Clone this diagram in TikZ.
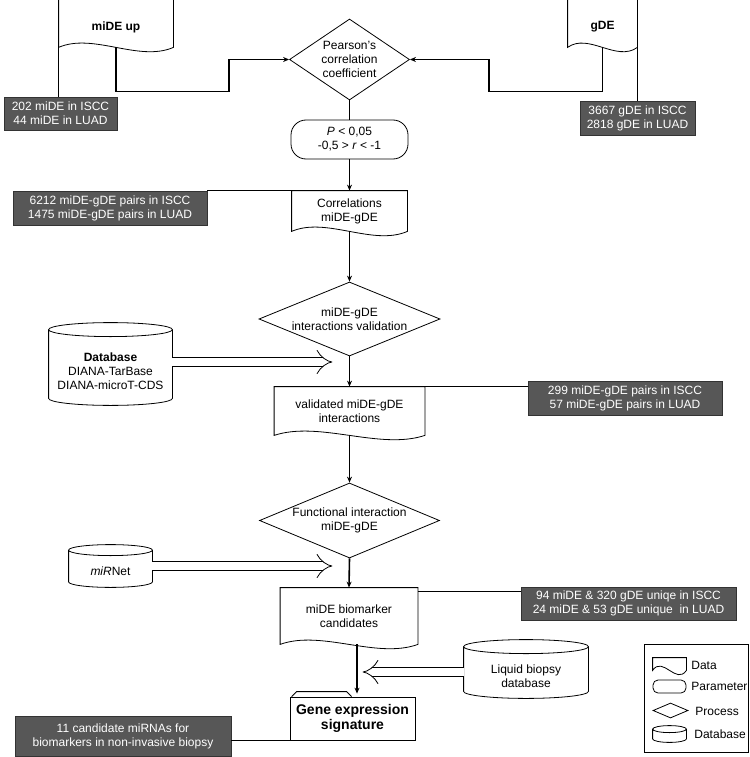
\documentclass[tikz,border=0pt]{standalone}
\usepackage{fontspec}
\setmainfont{Liberation Sans}
\usetikzlibrary{shapes.geometric, arrows.meta, positioning, calc}
\definecolor{boxgray}{HTML}{575757}
\tikzstyle{arrow}    = [line width=1.6pt,->,>={Stealth[length=6pt,width=5pt]}]
\tikzstyle{edge}     = [line width=1.6pt]
\tikzstyle{note}     = [line width=0.8pt]
\tikzstyle{feed}     = [line width=0.8pt, double, double distance=8pt, -{Implies}]
\tikzstyle{datadoc}  = [inner sep=0pt, align=center]
\tikzstyle{dbase}    = [inner sep=0pt, align=center]
\tikzstyle{process}  = [draw, diamond, inner sep=0pt, align=center]
\tikzstyle{param}    = [draw, rounded corners=15pt, inner sep=0pt, align=center]
\tikzstyle{graybox}  = [draw=black!80, fill=boxgray, text=white, inner sep=0pt, align=center]
\tikzstyle{legtext}  = [anchor=west, inner sep=0pt]
\newcommand{\docshape}[2][0]{%
  \draw ([yshift=#1pt]#2.north west) -- ([yshift=#1pt]#2.north east) -- (#2.south east)
    .. controls ($(#2.south east)!0.3!(#2.south west)+(0,15)$) and ($(#2.south east)!0.7!(#2.south west)+(0,-15)$) .. (#2.south west) -- cycle;}
\newcommand{\dbshape}[2][7]{%
  \draw let \p1=(#2.north west), \p2=(#2.south east), \n1={(\x2-\x1)/2} in
    (\x1,\y1+#1pt) -- (\x1,\y2+#1pt)
    arc[start angle=180, end angle=360, x radius=\n1, y radius=#1pt]
    -- (\x2,\y1+#1pt)
    arc[start angle=0, end angle=360, x radius=\n1, y radius=#1pt];}
\begin{document}
\begin{tikzpicture}[x=1pt, y=-1pt, line width=0.8pt, font=\fontsize{12}{14}\selectfont]

\useasboundingbox (0,0) rectangle (749,757);

\node[datadoc, minimum width=114pt, minimum height=40pt] (MIDE) at (116,27) {\textbf{miDE up}};
\node[datadoc, minimum width=69pt, minimum height=40pt] (GDE) at (602.5,27) {\textbf{gDE}};
\docshape[20]{MIDE}
\docshape[20]{GDE}

\node[graybox, minimum width=113pt, minimum height=33pt] (B1) at (60.5,113.5) {202 miDE in ISCC\\44 miDE in LUAD};
\node[graybox, minimum width=115pt, minimum height=34pt] (B2) at (637.5,118) {3667 gDE in ISCC\\2818 gDE in LUAD};

\node[process, aspect=1.5, minimum width=120pt, minimum height=81pt] (PCC) at (349.5,59.5) {Pearson's\\correlation\\coefficient};
\node[param, minimum width=117pt, minimum height=39pt] (PAR) at (349.5,139.5) {\textit{P} < 0,05\\-0,5 > \textit{r} < -1};

\node[datadoc, minimum width=115pt, minimum height=40pt] (COR) at (349.5,211) {Correlations\\miDE-gDE};
\docshape{COR}
\node[graybox, minimum width=194pt, minimum height=34pt] (B3) at (110,208) {6212 miDE-gDE pairs in ISCC\\1475 miDE-gDE pairs in LUAD};

\node[process, aspect=2.45, minimum width=181pt, minimum height=74pt] (VAL) at (349.5,319) {miDE-gDE\\interactions validation};
\node[dbase, minimum width=123pt, minimum height=68pt] (DB1) at (110.5,371) {\textbf{Database}\\DIANA-TarBase\\DIANA-microT-CDS};
\dbshape{DB1}

\node[datadoc, minimum width=150pt, minimum height=48pt] (VDOC) at (349.5,411) {validated miDE-gDE\\interactions};
\docshape{VDOC}
\node[graybox, minimum width=194pt, minimum height=34pt] (B4) at (625,398) {299 miDE-gDE pairs in ISCC\\57 miDE-gDE pairs in LUAD};

\node[process, aspect=2.45, minimum width=180pt, minimum height=75pt] (FUN) at (349.5,520.5) {Functional interaction\\miDE-gDE};
\node[dbase, minimum width=83pt, minimum height=31pt] (DB2) at (110.5,571.5) {\textit{miR}Net};
\dbshape[5.5]{DB2}

\node[datadoc, minimum width=137pt, minimum height=56pt] (CAND) at (349,616) {miDE biomarker\\candidates};
\docshape{CAND}
\node[graybox, minimum width=215pt, minimum height=33pt] (B5) at (628.5,603.5) {94 miDE \& 320 gDE uniqe in ISCC\\24 miDE \& 53 gDE unique~ in LUAD};

\node[dbase, minimum width=124pt, minimum height=44pt] (DB3) at (526,676) {Liquid biopsy\\database};
\dbshape{DB3}

\node[draw, minimum width=125pt, minimum height=43pt, align=center, font=\fontsize{14}{15}\selectfont\bfseries] (GES) at (352.5,718.5) {Gene expression\\signature};
\draw ([xshift=2pt]GES.north west) -- ++(5,-5) -- ++(50,0) -- ++(5,5);
\node[graybox, minimum width=216pt, minimum height=40pt] (B6) at (123,736) {11 candidate miRNAs for\\biomarkers in non-invasive biopsy};

\node[draw, minimum width=104pt, minimum height=108pt] (LEG) at (696,698) {};
\node[datadoc, minimum width=33pt, minimum height=12pt] (LDAT) at (669.5,664) {};
\docshape{LDAT}
\node[param, rounded corners=5pt, minimum width=33pt, minimum height=13pt] (LPAR) at (669.5,686.5) {};
\node[process, minimum width=35pt, minimum height=15pt] (LPRO) at (670.5,710.5) {};
\node[dbase, minimum width=33pt, minimum height=9pt] (LDB) at (669.5,737.5) {};
\dbshape[3.5]{LDB}
\node[legtext] (LT1) at (691,665) {Data};
\node[legtext] (LT2) at (691,686) {Parameter};
\node[legtext] (LT3) at (695,711) {Process};
\node[legtext] (LT4) at (694,734) {Database};

\draw[arrow] (MIDE.south) -- ++(0,44) -| ([xshift=-60pt]PCC.west) -- (PCC.west);
\draw[arrow] (GDE.south) -- ++(0,44) -| ([xshift=79pt]PCC.east) -- (PCC.east);
\draw[edge] (PCC.south) -- (PAR.north);
\draw[arrow] (PAR.south) -- (COR.north);
\draw[arrow] (COR.south) -- (VAL.north);
\draw[arrow] (VAL.south) -- (VDOC.north);
\draw[arrow] (VDOC.south) -- (FUN.north);
\draw[arrow] (FUN.south) -- (CAND.north);
\draw[arrow, shorten >=3pt] ([xshift=8pt]CAND.south) -- ([xshift=8pt]CAND.south |- GES.north);

\draw[feed] ([yshift=9pt]DB1.east) -- ++(160,0);
\draw[feed] ([yshift=5.5pt]DB2.east) -- ++(180,0);
\draw[feed] ([yshift=4pt]DB3.west) -- ++(-101,0);

\draw[note] (MIDE.south west) -- (MIDE.south west |- B1.north);
\draw[note] (GDE.south east) -- (GDE.south east |- B2.north);
\draw[note] (B3.north east) -- (COR.north west);
\draw[note] (VDOC.north east) -- (VDOC.north east -| B4.west);
\draw[note] ([yshift=-4pt]CAND.north east) -- ([yshift=-4pt]CAND.north east -| B5.west);
\draw[note] (GES.south west) -- (GES.south west -| B6.east);

\end{tikzpicture}
\end{document}
